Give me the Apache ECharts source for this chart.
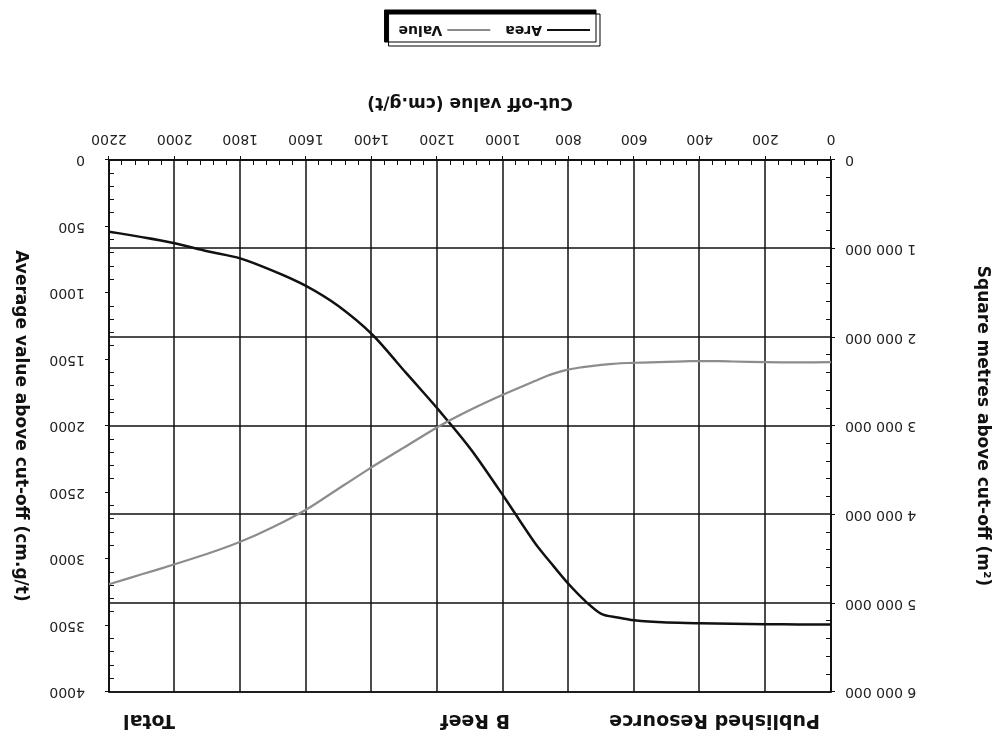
<!DOCTYPE html>
<html>
<head>
<meta charset="utf-8">
<script src="https://cdn.jsdelivr.net/npm/echarts@6/dist/echarts.min.js"></script>
<style>
html,body{margin:0;padding:0;background:#fff;overflow:hidden;}
#chart{width:999px;height:740px;transform:rotate(180deg);transform-origin:50% 50%;}
</style>
</head>
<body>
<div id="chart"></div>
<script>
// Cut-off value (cm.g/t)
const cutoff = [0,100,200,300,400,500,600,650,700,750,800,850,900,1000,1100,1200,1300,1400,1500,1600,1700,1800,1900,2000,2100,2200];
// Square metres above cut-off (m²)
const area = [5240000,5240000,5235000,5230000,5225000,5215000,5190000,5160000,5120000,4970000,4780000,4560000,4330000,3780000,3250000,2800000,2380000,1960000,1650000,1420000,1250000,1110000,1030000,940000,870000,810000];
// Average value above cut-off (cm.g/t)
const value = [1520,1522,1520,1515,1512,1518,1525,1530,1540,1555,1575,1610,1660,1765,1880,2010,2160,2310,2470,2630,2760,2870,2960,3040,3115,3190];
const seriesNames = ['Area','Value'];
const headings = ['Published Resource','B Reef','Total'];

const font = '"DejaVu Sans", "Liberation Sans", Arial, sans-serif';
const chart = echarts.init(document.getElementById('chart'), null, {renderer:'canvas'});
function spaced(v){ return String(v).replace(/\B(?=(\d{3})+(?!\d))/g,' '); }
function plain(v){ return String(v); }
const headStyle = {fontFamily:font,fontSize:19,fontWeight:'bold',color:'#111'};
const nameStyle = {fontFamily:font,fontSize:17,fontWeight:'bold',color:'#111'};
const labelStyle = {fontFamily:font,fontSize:14,color:'#222'};
chart.setOption({
  backgroundColor:'#fff',
  animation:false,
  title:[
    {text:headings[0], left:179, top:11, padding:0, textStyle:headStyle},
    {text:headings[1], left:489, top:11, padding:0, textStyle:headStyle},
    {text:headings[2], left:824, top:11, padding:0, textStyle:headStyle}
  ],
  legend:{
    data:seriesNames, left:399, top:694, icon:'rect', itemWidth:43, itemHeight:2, itemGap:15,
    padding:[9,10], backgroundColor:'#fff', borderColor:'#000', borderWidth:1,
    shadowColor:'#000', shadowOffsetX:4, shadowOffsetY:4, shadowBlur:0,
    textStyle:{fontFamily:font,fontSize:14,fontWeight:'bold',color:'#111'}
  },
  grid:{left:168, right:109, top:48, bottom:160, show:true, borderColor:'#111', borderWidth:1.5, backgroundColor:'#fff'},
  xAxis:{
    type:'value', min:0, max:2200, interval:200,
    name:'Cut-off value (cm.g/t)', nameLocation:'middle', nameGap:49,
    nameTextStyle:nameStyle,
    axisLine:{show:true,lineStyle:{color:'#111',width:1.5}},
    axisTick:{show:true,length:4,lineStyle:{color:'#111'}},
    minorTick:{show:true,splitNumber:5,length:-5,lineStyle:{color:'#111'}},
    axisLabel:Object.assign({margin:14,formatter:plain},labelStyle),
    splitLine:{show:true,lineStyle:{color:'#111',width:1.5}}
  },
  yAxis:[
    {
      type:'value', min:0, max:6000000, interval:1000000, position:'left',
      name:'Square metres above cut-off (m²)', nameLocation:'middle', nameRotate:90, nameGap:143,
      nameTextStyle:nameStyle,
      axisLine:{show:true,lineStyle:{color:'#111',width:1.5}},
      axisTick:{show:true,length:4,lineStyle:{color:'#111'}},
      minorTick:{show:true,splitNumber:5,length:-5,lineStyle:{color:'#111'}},
      axisLabel:Object.assign({margin:14,formatter:spaced},labelStyle),
      splitLine:{show:true,lineStyle:{color:'#111',width:1.5}}
    },
    {
      type:'value', min:0, max:4000, interval:500, position:'right',
      name:'Average value above cut-off (cm.g/t)', nameLocation:'middle', nameRotate:90, nameGap:80,
      nameTextStyle:nameStyle,
      axisLine:{show:true,lineStyle:{color:'#111',width:1.5}},
      axisTick:{show:true,length:4,lineStyle:{color:'#111'}},
      minorTick:{show:true,splitNumber:5,length:-5,lineStyle:{color:'#111'}},
      axisLabel:Object.assign({margin:24,formatter:plain},labelStyle),
      splitLine:{show:false}
    }
  ],
  series:[
    {name:seriesNames[0], type:'line', yAxisIndex:0, smooth:0.3, showSymbol:false,
     lineStyle:{color:'#111',width:2.5}, itemStyle:{color:'#111'},
     data:cutoff.map((c,i)=>[c,area[i]])},
    {name:seriesNames[1], type:'line', yAxisIndex:1, smooth:0.3, showSymbol:false,
     lineStyle:{color:'#8c8c8c',width:2.2}, itemStyle:{color:'#8c8c8c'},
     data:cutoff.map((c,i)=>[c,value[i]])}
  ]
});
</script>
</body>
</html>
